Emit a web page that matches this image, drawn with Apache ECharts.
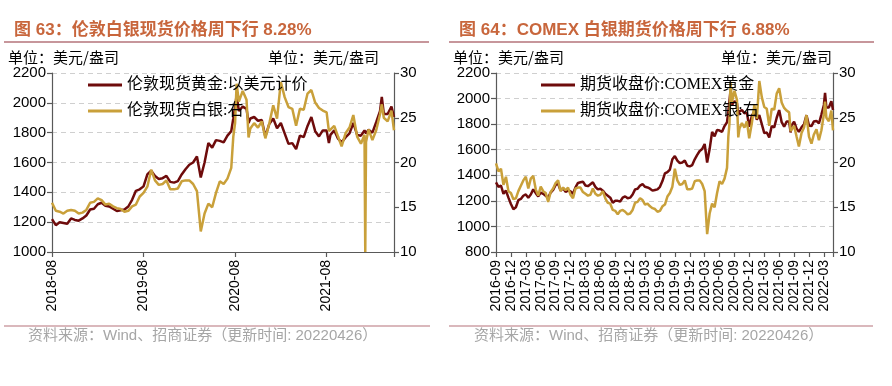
<!DOCTYPE html>
<html><head><meta charset="utf-8">
<script src="https://cdn.jsdelivr.net/npm/echarts@6/dist/echarts.min.js"></script>
<style>html,body{margin:0;padding:0;background:#fff}#c{width:892px;height:386px}</style>
</head><body><div id="c"></div>
<script>
// ---------- Left chart: London spot gold / silver ----------
const leftDates = [
'2018-08-01','2018-08-16','2018-09-01','2018-09-16','2018-10-01','2018-10-16','2018-11-01','2018-11-16','2018-12-01','2018-12-16',
'2019-01-01','2019-01-16','2019-02-01','2019-02-16','2019-03-01','2019-03-16','2019-04-01','2019-04-16','2019-05-01','2019-05-16','2019-06-01','2019-06-16','2019-07-01','2019-07-16','2019-08-01','2019-08-16','2019-09-01','2019-09-16','2019-10-01','2019-10-16','2019-11-01','2019-11-16','2019-12-01','2019-12-16',
'2020-01-01','2020-01-16','2020-02-01','2020-02-16','2020-03-01','2020-03-16','2020-04-01','2020-04-16','2020-05-01','2020-05-16','2020-06-01','2020-06-16','2020-07-01','2020-07-16','2020-07-24','2020-08-01','2020-08-07','2020-08-16','2020-09-01','2020-09-16','2020-09-24','2020-10-01','2020-10-16','2020-11-01','2020-11-16','2020-11-30','2020-12-16',
'2021-01-01','2021-01-16','2021-02-01','2021-02-16','2021-03-01','2021-03-16','2021-03-31','2021-04-16','2021-05-01','2021-05-16','2021-06-01','2021-06-16','2021-07-01','2021-07-16','2021-08-01','2021-08-10','2021-08-16','2021-09-01','2021-09-16','2021-09-30','2021-10-16','2021-11-01','2021-11-16','2021-12-01','2021-12-16','2021-12-30',
'2022-01-03','2022-01-06','2022-01-16','2022-02-01','2022-02-16','2022-03-01','2022-03-08','2022-03-16','2022-04-01','2022-04-16','2022-04-26'
];
const leftGold = [
1220,1180,1200,1195,1190,1225,1215,1210,1225,1245,
1285,1290,1320,1330,1310,1305,1290,1275,1280,1285,1305,1350,1410,1420,1440,1520,1545,1510,1490,1495,1510,1470,1465,1475,
1520,1555,1585,1600,1640,1500,1600,1730,1700,1750,1745,1735,1780,1810,1895,1975,2050,1945,1975,1960,1865,1895,1905,1880,1885,1775,1860,
1895,1830,1865,1795,1725,1730,1690,1780,1770,1845,1905,1810,1775,1815,1815,1730,1785,1815,1760,1735,1770,1795,1865,1785,1780,1815,
1810,1795,1820,1800,1870,1945,2040,1925,1925,1975,1905
];
const leftSilver = [
15.5,14.6,14.5,14.3,14.6,14.7,14.6,14.3,14.4,14.7,
15.5,15.6,16.0,15.8,15.3,15.4,15.1,14.9,14.8,14.5,14.6,15.1,15.3,16.2,16.6,17.3,19.2,18.0,17.5,17.6,18.0,17.0,17.0,17.1,
17.9,18.0,18.0,17.6,16.8,12.3,14.3,15.4,15.0,16.6,17.9,17.6,18.2,19.4,22.9,24.4,28.8,26.8,28.0,27.0,22.8,23.8,24.4,23.9,24.6,22.7,24.4,
26.4,24.9,29.0,27.3,26.2,26.0,24.1,26.0,25.9,27.7,28.1,26.7,26.1,25.8,25.6,23.5,23.7,24.1,22.9,21.8,23.3,23.9,25.3,22.9,22.1,23.1,
10.0,22.3,23.7,22.5,23.6,25.4,26.5,25.0,24.6,25.8,23.6
];
const leftXLabels = ['2018-08','2019-08','2020-08','2021-08'];

// ---------- Right chart: COMEX futures gold / silver ----------
const rightDates = [
'2016-09-01','2016-09-16','2016-10-01','2016-10-16','2016-11-01','2016-11-16','2016-12-01','2016-12-16',
'2017-01-01','2017-01-16','2017-02-01','2017-02-16','2017-03-01','2017-03-16','2017-04-01','2017-04-16','2017-05-01','2017-05-16','2017-06-01','2017-06-16','2017-07-01','2017-07-16','2017-08-01','2017-08-16','2017-09-01','2017-09-16','2017-10-01','2017-10-16','2017-11-01','2017-11-16','2017-12-01','2017-12-16',
'2018-01-01','2018-01-16','2018-02-01','2018-02-16','2018-03-01','2018-03-16','2018-04-01','2018-04-16','2018-05-01','2018-05-16','2018-06-01','2018-06-16','2018-07-01','2018-07-16',
'2018-08-01','2018-08-16','2018-09-01','2018-09-16','2018-10-01','2018-10-16','2018-11-01','2018-11-16','2018-12-01','2018-12-16',
'2019-01-01','2019-01-16','2019-02-01','2019-02-16','2019-03-01','2019-03-16','2019-04-01','2019-04-16','2019-05-01','2019-05-16','2019-06-01','2019-06-16','2019-07-01','2019-07-16','2019-08-01','2019-08-16','2019-09-01','2019-09-16','2019-10-01','2019-10-16','2019-11-01','2019-11-16','2019-12-01','2019-12-16',
'2020-01-01','2020-01-16','2020-02-01','2020-02-16','2020-03-01','2020-03-16','2020-04-01','2020-04-16','2020-05-01','2020-05-16','2020-06-01','2020-06-16','2020-07-01','2020-07-16','2020-07-24','2020-08-01','2020-08-07','2020-08-16','2020-09-01','2020-09-16','2020-09-24','2020-10-01','2020-10-16','2020-11-01','2020-11-16','2020-11-30','2020-12-16',
'2021-01-01','2021-01-16','2021-02-01','2021-02-16','2021-03-01','2021-03-16','2021-03-31','2021-04-16','2021-05-01','2021-05-16','2021-06-01','2021-06-16','2021-07-01','2021-07-16','2021-08-01','2021-08-10','2021-08-16','2021-09-01','2021-09-16','2021-09-30','2021-10-16','2021-11-01','2021-11-16','2021-12-01','2021-12-16','2021-12-30',
'2022-01-16','2022-02-01','2022-02-16','2022-03-01','2022-03-08','2022-03-16','2022-04-01','2022-04-16','2022-04-26'
];
const rightGold = [
1345,1310,1320,1255,1280,1225,1175,1135,
1150,1205,1215,1240,1250,1225,1250,1290,1260,1235,1265,1255,1240,1225,1265,1285,1325,1335,1280,1300,1270,1280,1275,1255,
1305,1340,1345,1350,1320,1315,1330,1345,1310,1290,1295,1280,1255,1240,
1225,1185,1200,1200,1195,1225,1235,1220,1225,1250,
1290,1295,1320,1330,1310,1305,1295,1280,1285,1290,1310,1355,1415,1425,1445,1525,1550,1515,1495,1500,1515,1475,1470,1480,
1525,1560,1590,1605,1645,1500,1605,1740,1705,1755,1750,1740,1785,1815,1900,1985,2060,1950,1980,1965,1870,1900,1910,1885,1890,1780,1865,
1900,1835,1870,1800,1730,1735,1695,1785,1775,1850,1910,1815,1780,1820,1820,1735,1790,1820,1765,1740,1775,1800,1870,1790,1785,1820,
1825,1805,1875,1950,2045,1930,1930,1980,1910
];
const rightSilver = [
19.9,19.0,19.3,17.5,18.4,16.8,16.6,15.9,
16.0,16.8,17.4,18.0,18.4,17.1,18.2,18.5,17.0,16.3,17.3,16.8,16.6,15.6,16.7,17.1,17.7,18.0,16.8,17.2,16.9,17.2,16.4,16.0,
17.1,17.2,17.2,16.7,16.5,16.3,16.4,17.1,16.5,16.3,16.4,16.8,16.0,15.5,
15.4,14.7,14.6,14.2,14.6,14.7,14.5,14.2,14.3,14.7,
15.5,15.6,16.0,15.8,15.3,15.4,15.1,14.9,14.8,14.5,14.6,15.1,15.3,16.2,16.6,17.3,19.3,18.0,17.5,17.6,18.0,17.0,17.0,17.1,
17.9,18.0,18.0,17.6,16.8,12.0,14.3,15.4,15.0,16.6,17.9,17.6,18.2,19.4,22.9,24.4,29.0,26.8,28.0,27.0,22.8,23.8,24.4,23.9,24.6,22.7,24.4,
26.4,24.9,29.1,27.3,26.2,26.0,24.1,26.0,25.9,27.7,28.3,26.7,26.1,25.8,25.6,23.5,23.7,24.1,22.9,21.8,23.3,23.9,25.3,22.9,22.1,23.1,
23.7,22.5,23.6,25.4,26.8,25.0,24.6,25.8,23.6
];
const rightXLabels = ['2016-09','2016-12','2017-03','2017-06','2017-09','2017-12','2018-03','2018-06','2018-09','2018-12','2019-03','2019-06','2019-09','2019-12','2020-03','2020-06','2020-09','2020-12','2021-03','2021-06','2021-09','2021-12','2022-03'];

const goldTicks = [1000,1200,1400,1600,1800,2000,2200];
const goldTicksR = [800,1000,1200,1400,1600,1800,2000,2200];
const silverTicks = [10,15,20,25,30];

const NAMES = ['伦敦现货黄金:以美元计价','伦敦现货白银:右','期货收盘价:COMEX黄金','期货收盘价:COMEX银:右'];
const C_GOLD = '#6E0B0B', C_SILVER = '#C9A03A';

function monthsFrom(d, base) {
  const [y, m, dd] = d.split('-').map(Number);
  const [by, bm] = base.split('-').map(Number);
  return (y - by) * 12 + (m - bm) + (dd - 1) / 30;
}
const leftBase = '2018-08-01', rightBase = '2016-09-01';
const pairs = (dates, vals, base) => dates.map((d, i) => [monthsFrom(d, base), vals[i]]);
const leftMax = monthsFrom(leftDates[leftDates.length - 1], leftBase);
const rightMax = monthsFrom(rightDates[rightDates.length - 1], rightBase);

const AX = '#595959';
const LAB = {color: '#000', fontSize: 15, fontFamily: 'Liberation Sans, Arial, sans-serif', formatter: v => String(v)};
function xAxis(gi, max, step, labels) {
  return {
    type: 'value', gridIndex: gi, min: 0, max: max, interval: step,
    axisLine: {show: true, lineStyle: {color: AX, width: 1.2}},
    axisTick: {show: true, length: 5, lineStyle: {color: AX, width: 1.2}},
    splitLine: {show: false},
    axisLabel: {
      rotate: 90, margin: 8, color: '#000', fontSize: 14, fontFamily: 'Liberation Sans, Arial, sans-serif',
      showMaxLabel: true, showMinLabel: true,
      formatter: v => { const k = Math.round(v / step); return Math.abs(v - k * step) < 1e-6 ? (labels[k] || '') : ''; }
    }
  };
}
function yAxis(gi, ticks, pos, grid) {
  return {
    type: 'value', gridIndex: gi, position: pos,
    min: ticks[0], max: ticks[ticks.length - 1], interval: ticks[1] - ticks[0],
    axisLine: {show: true, lineStyle: {color: AX, width: 1.2}},
    axisTick: {show: true, length: 5, lineStyle: {color: AX, width: 1.2}},
    axisLabel: Object.assign({margin: 6}, LAB),
    splitLine: {show: grid, lineStyle: {color: '#cfcfcf', type: [5, 4], width: 1}}
  };
}
function lineSeries(name, data, xi, yi, color) {
  return {
    name, type: 'line', data, xAxisIndex: xi, yAxisIndex: yi,
    showSymbol: false, symbol: 'none', animation: false,
    lineStyle: {color, width: 2.5}, itemStyle: {color}
  };
}
const TXT = '#000';
function text(x, y, s, style) {
  return {type: 'text', left: x, top: y, style: Object.assign({text: s, fill: TXT, fontSize: 15,
    fontFamily: 'Noto Sans CJK SC, sans-serif'}, style)};
}
function hline(x1, x2, y, color, w) {
  return {type: 'line', shape: {x1, y1: y, x2, y2: y}, style: {stroke: color, lineWidth: w}};
}
const TITLE = {fill: '#C8663C', fontSize: 17, fontWeight: 'bold', fontFamily: 'Liberation Sans, Noto Sans CJK SC, sans-serif'};
const SRC = {fill: '#A6A6A6', fontSize: 15, fontFamily: 'Liberation Sans, Noto Sans CJK SC, sans-serif'};
const RULE = '#B5737A';
const LEG = {color: '#000', fontSize: 16, fontFamily: 'Liberation Serif, Noto Sans CJK SC, serif'};

const chart = echarts.init(document.getElementById('c'), null, {renderer: 'canvas'});
chart.setOption({
  animation: false,
  backgroundColor: '#fff',
  grid: [
    {left: 52, top: 73, width: 342, height: 179},
    {left: 496, top: 73, width: 337, height: 179}
  ],
  xAxis: [xAxis(0, leftMax, 12, leftXLabels), xAxis(1, rightMax, 3, rightXLabels)],
  yAxis: [
    yAxis(0, goldTicks, 'left', true), yAxis(0, silverTicks, 'right', false),
    yAxis(1, goldTicksR, 'left', true), yAxis(1, silverTicks, 'right', false)
  ],
  legend: [
    {data: [NAMES[0], NAMES[1]], left: 88, top: 77, padding: 0, orient: 'vertical', icon: 'rect', itemWidth: 34, itemHeight: 3, itemGap: 10, textStyle: LEG},
    {data: [NAMES[2], NAMES[3]], left: 541, top: 77, padding: 0, orient: 'vertical', icon: 'rect', itemWidth: 34, itemHeight: 3, itemGap: 10, textStyle: LEG}
  ],
  series: [
    lineSeries(NAMES[0], pairs(leftDates, leftGold, leftBase), 0, 0, C_GOLD),
    lineSeries(NAMES[1], pairs(leftDates, leftSilver, leftBase), 0, 1, C_SILVER),
    lineSeries(NAMES[2], pairs(rightDates, rightGold, rightBase), 1, 2, C_GOLD),
    lineSeries(NAMES[3], pairs(rightDates, rightSilver, rightBase), 1, 3, C_SILVER)
  ],
  graphic: [
    text(14, 22, '图 63：伦敦白银现货价格周下行 8.28%', TITLE),
    text(459, 22, '图 64：COMEX 白银期货价格周下行 6.88%', TITLE),
    hline(4, 429, 42, RULE, 1.5),
    hline(449, 874, 42, RULE, 1.5),
    text(8, 50, '单位：美元/盎司', {}),
    text(268, 50, '单位：美元/盎司', {}),
    text(453, 50, '单位：美元/盎司', {}),
    text(721, 50, '单位：美元/盎司', {}),
    hline(4, 430, 326, RULE, 1.2),
    hline(449, 873, 326, RULE, 1.2),
    text(28, 328, '资料来源：Wind、招商证券（更新时间: 20220426）', SRC),
    text(474, 328, '资料来源：Wind、招商证券（更新时间: 20220426）', SRC)
  ]
});
</script></body></html>
